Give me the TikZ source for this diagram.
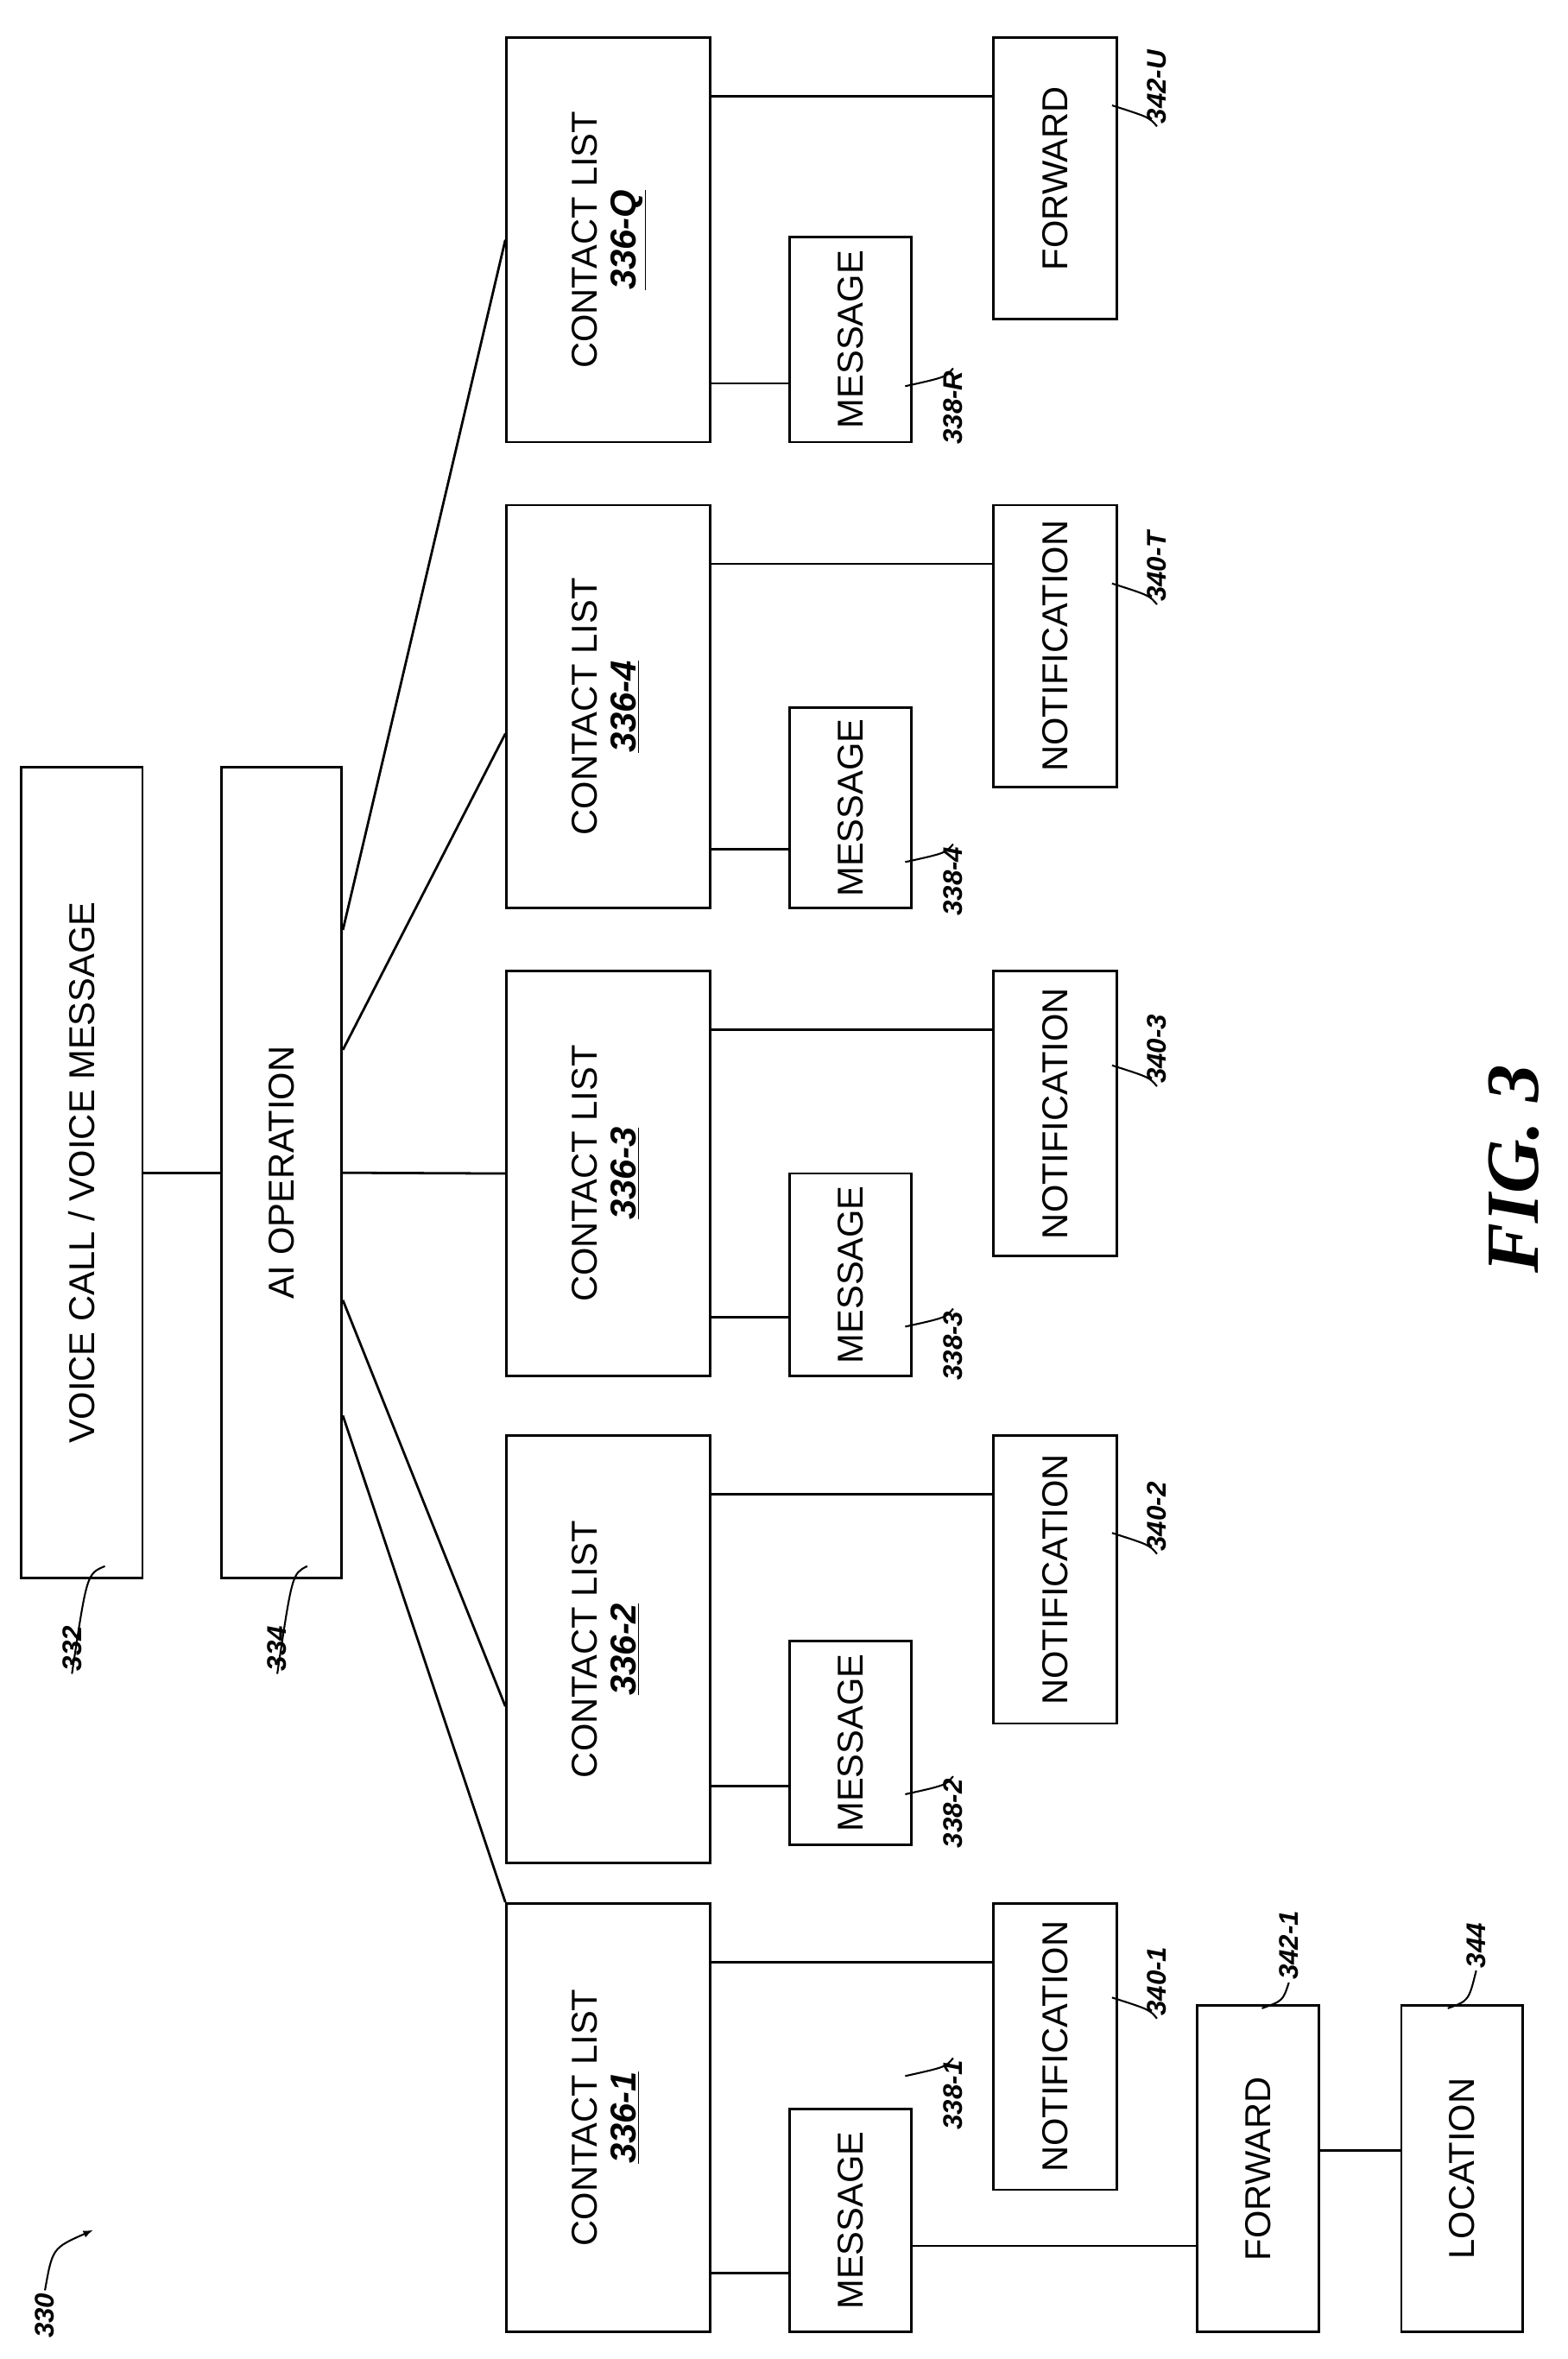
\documentclass[tikz,border=0pt]{standalone}
\usepackage{fontspec}
\setmainfont{Liberation Sans}
\newfontfamily\figfont{Liberation Serif}
\usetikzlibrary{positioning,calc}

% box from corner (x1,y1) to (x2,y2) with rotated text
\newcommand{\blk}[6]{%
  \node[blk, minimum width=#4pt-#2pt, minimum height=#5pt-#3pt] (#1)
    at ({(#2+#4)/2},{(#3+#5)/2}) {\rotatebox{90}{#6}};}
\newcommand{\clist}[1]{\begin{tabular}{@{}c@{}}CONTACT LIST\\[-2pt]\textbf{\textit{\underline{#1}}}\end{tabular}}

\begin{document}
\begin{tikzpicture}[x=1pt,y=-1pt,line width=1.6pt]
	\tikzstyle{blk}=[draw, inner sep=0pt, font=\fontsize{24}{28}\selectfont]
	\tikzstyle{lbl}=[font=\fontsize{18}{20}\selectfont\bfseries\itshape, rotate=90, inner sep=1pt]
	\tikzstyle{lead}=[line width=1.2pt]
	\useasboundingbox (0,0) rectangle (1046,1574);

	% top blocks
	\blk{vc}{14}{512}{95}{1053}{VOICE CALL / VOICE MESSAGE}
	\blk{ai}{148}{512}{228}{1053}{AI OPERATION}

	% contact lists
	\blk{cl1}{338}{1270}{474}{1556}{\clist{336-1}}
	\blk{cl2}{338}{958}{474}{1243}{\clist{336-2}}
	\blk{cl3}{338}{648}{474}{918}{\clist{336-3}}
	\blk{cl4}{338}{337}{474}{606}{\clist{336-4}}
	\blk{clq}{338}{25}{474}{295}{\clist{336-Q}}

	% messages
	\blk{msg1}{527}{1407}{608}{1556}{MESSAGE}
	\blk{msg2}{527}{1095}{608}{1231}{MESSAGE}
	\blk{msg3}{527}{783}{608}{918}{MESSAGE}
	\blk{msg4}{527}{472}{608}{606}{MESSAGE}
	\blk{msgr}{527}{158}{608}{295}{MESSAGE}

	% notifications
	\blk{nt1}{663}{1270}{745}{1461}{NOTIFICATION}
	\blk{nt2}{663}{958}{745}{1150}{NOTIFICATION}
	\blk{nt3}{663}{648}{745}{838}{NOTIFICATION}
	\blk{ntt}{663}{337}{745}{525}{NOTIFICATION}
	\blk{fwu}{663}{25}{745}{213}{FORWARD}

	\blk{fw1}{799}{1338}{880}{1556}{FORWARD}
	\blk{loc}{935}{1338}{1016}{1556}{LOCATION}

	% connections
	\draw (vc) -- (ai);
	\draw ([yshift=-162pt]ai.east) -- (cl1.north west);
	\draw ([yshift=-85pt]ai.east) -- ([yshift=-38pt]cl2.west);
	\draw (ai.east) -- (cl3.west);
	\draw ([yshift=82pt]ai.east) -- ([yshift=-18pt]cl4.west);
	\draw ([yshift=162pt]ai.east) -- (clq.west);

	\foreach \g/\m/\n in {1/msg1/nt1,2/msg2/nt2,3/msg3/nt3,4/msg4/ntt,q/msgr/fwu}{
		\draw ([yshift=40pt]\m.south west) -- ([yshift=40pt]\m.south west -| cl\g.east);
		\draw ([yshift=-40pt]\n.north west) -- ([yshift=-40pt]\n.north west -| cl\g.east);
	}
	\draw ([yshift=-17pt]msg1.east) -- ([yshift=-17pt]msg1.east -| fw1.west);
	\draw ([yshift=12pt]fw1.east) -- ([yshift=12pt]loc.west);

	% labels
	\node[lbl] (l332) at (48,1100) {332};
	\draw[lead] (l332.west) .. controls (58,1050) .. (70,1045);
	\node[lbl] (l334) at (185,1100) {334};
	\draw[lead] (l334.west) .. controls (195,1050) .. (205,1045);
	\foreach \nm/\y in {338-1/1398,338-2/1210,338-3/898,338-4/588,338-R/272}{
		\node[lbl] (l\nm) at (636,\y) {\nm};
		\draw[lead] (l\nm.east) .. controls ($(l\nm.east)+(-5,6)$) .. ($(l\nm.east)+(-32,12)$);
	}
	\foreach \nm/\y in {340-1/1322,340-2/1012,340-3/700,340-T/378,342-U/58}{
		\node[lbl] (l\nm) at (772,\y) {\nm};
		\draw[lead] (l\nm.west) .. controls ($(l\nm.west)+(-5,-6)$) .. ($(l\nm.west)+(-30,-14)$);
	}
	\node[lbl] (l3421) at (860,1298) {342-1};
	\draw[lead] (l3421.west) .. controls (856,1335) .. (842,1340);
	\node[lbl] (l344) at (985,1298) {344};
	\draw[lead] (l344.west) .. controls (980,1335) .. (966,1340);

	\node[lbl] (l330) at (30,1545) {330};
	\coordinate (a330) at (62,1488);
	\draw[lead,-latex] (l330.east) .. controls (35,1500) .. (a330);

	\node[rotate=90, font=\figfont\fontsize{50}{56}\selectfont\bfseries\itshape] (fig) at (1010,780) {FIG. 3};
\end{tikzpicture}
\end{document}
